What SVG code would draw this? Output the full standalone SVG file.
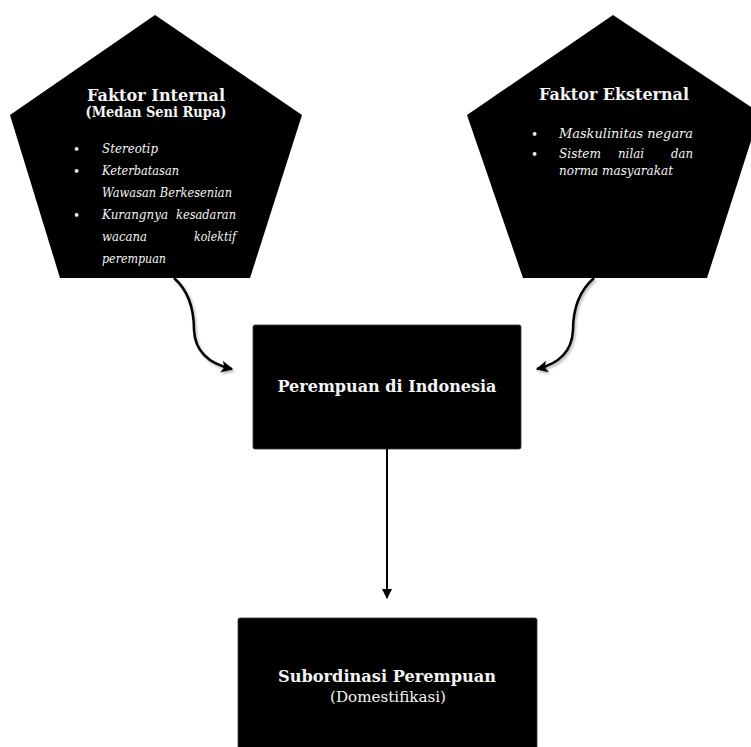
<svg xmlns="http://www.w3.org/2000/svg" width="751" height="747" viewBox="0 0 751 747">
<defs>
<style>
.shape{fill:#000;}
.box{fill:#000;stroke:#333;stroke-width:0.8;}
.t{font-family:"DejaVu Serif","Liberation Serif",serif;fill:#f4f4f4;}
.b{font-weight:bold;}
.i{font-style:italic;}
.conn{fill:none;stroke:#000;}
</style>
<marker id="ah" viewBox="0 0 10 10" refX="9" refY="5" markerWidth="12" markerHeight="12" markerUnits="userSpaceOnUse" orient="auto">
<path d="M0,0 L10,5 L0,10 L2.5,5 Z" fill="#000"/>
</marker>
<marker id="ah2" viewBox="0 0 10 10" refX="9" refY="5" markerWidth="10" markerHeight="10" markerUnits="userSpaceOnUse" orient="auto">
<path d="M0,0 L10,5 L0,10 Z" fill="#000"/>
</marker>
<filter id="sh" x="-20%" y="-20%" width="140%" height="140%">
<feDropShadow dx="1.5" dy="2" stdDeviation="1.2" flood-color="#000" flood-opacity="0.3"/>
</filter>
</defs>

<g id="faktor-internal">
<polygon class="shape" points="10,115 155,15 302,115 250,278 60,278"/>
<text class="t b" x="156" y="101" font-size="17" text-anchor="middle" textLength="138" lengthAdjust="spacingAndGlyphs">Faktor Internal</text>
<text class="t b" x="156" y="117" font-size="14" text-anchor="middle" textLength="141" lengthAdjust="spacingAndGlyphs">(Medan Seni Rupa)</text>
<g class="t" font-size="12">
<text x="73" y="154">•</text>
<text x="73" y="176">•</text>
<text x="73" y="220">•</text>
</g>
<g class="t i" font-size="13">
<text x="102" y="153" textLength="56" lengthAdjust="spacingAndGlyphs">Stereotip</text>
<text x="102" y="175" textLength="77" lengthAdjust="spacingAndGlyphs">Keterbatasan</text>
<text x="102" y="197" textLength="130" lengthAdjust="spacingAndGlyphs">Wawasan Berkesenian</text>
<text x="102" y="219" textLength="66" lengthAdjust="spacingAndGlyphs">Kurangnya</text>
<text x="236" y="219" text-anchor="end" textLength="60" lengthAdjust="spacingAndGlyphs">kesadaran</text>
<text x="102" y="241" textLength="45" lengthAdjust="spacingAndGlyphs">wacana</text>
<text x="236" y="241" text-anchor="end" textLength="42" lengthAdjust="spacingAndGlyphs">kolektif</text>
<text x="102" y="263" textLength="64" lengthAdjust="spacingAndGlyphs">perempuan</text>
</g>
</g>

<g id="faktor-eksternal">
<polygon class="shape" points="467,115 613,15 760,113 707,278 523,278"/>
<text class="t b" x="614" y="100" font-size="17" text-anchor="middle" textLength="150" lengthAdjust="spacingAndGlyphs">Faktor Eksternal</text>
<g class="t" font-size="12">
<text x="531" y="139">•</text>
<text x="531" y="159">•</text>
</g>
<g class="t i" font-size="13.5">
<text x="559" y="138" textLength="134" lengthAdjust="spacingAndGlyphs">Maskulinitas negara</text>
<text x="559" y="158" textLength="42" lengthAdjust="spacingAndGlyphs">Sistem</text>
<text x="631" y="158" text-anchor="middle" textLength="26" lengthAdjust="spacingAndGlyphs">nilai</text>
<text x="693" y="158" text-anchor="end" textLength="22" lengthAdjust="spacingAndGlyphs">dan</text>
<text x="559" y="175" textLength="114" lengthAdjust="spacingAndGlyphs">norma masyarakat</text>
</g>
</g>

<g id="perempuan-indonesia">
<rect class="box" x="253" y="325" width="268" height="124" rx="2"/>
<text class="t b" x="387" y="392" font-size="17" text-anchor="middle" textLength="219" lengthAdjust="spacingAndGlyphs">Perempuan di Indonesia</text>
</g>

<g id="subordinasi">
<rect class="box" x="238" y="618" width="299" height="140" rx="2"/>
<text class="t b" x="387" y="682" font-size="17" text-anchor="middle" textLength="218" lengthAdjust="spacingAndGlyphs">Subordinasi Perempuan</text>
<text class="t" x="388" y="702" font-size="15.5" text-anchor="middle" textLength="116" lengthAdjust="spacingAndGlyphs">(Domestifikasi)</text>
</g>

<g id="connectors">
<path class="conn" filter="url(#sh)" stroke-width="2.5" marker-end="url(#ah)" d="M174,278 C190,292 194,312 194,330 C195,352 210,364 232,369"/>
<path class="conn" filter="url(#sh)" stroke-width="2.5" marker-end="url(#ah)" d="M594,278 C578,292 573,312 573,330 C572,352 558,364 537,369"/>
<path class="conn" stroke-width="2" marker-end="url(#ah2)" d="M387,449 L387,598"/>
</g>
</svg>
